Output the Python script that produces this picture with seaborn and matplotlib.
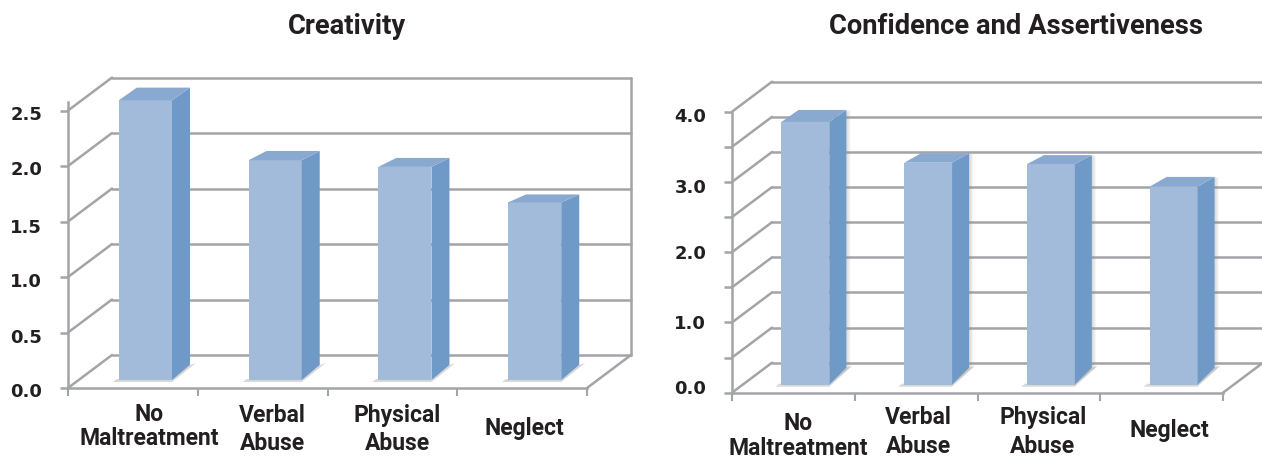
import matplotlib
matplotlib.use('agg')
import matplotlib.pyplot as plt
import seaborn as sns
from matplotlib.patches import Polygon
from matplotlib.transforms import IdentityTransform, ScaledTranslation, offset_copy

categories = ["No\nMaltreatment", "Verbal\nAbuse", "Physical\nAbuse", "Neglect"]
creativity = [2.52, 1.98, 1.92, 1.60]
confidence = [3.74, 3.16, 3.14, 2.82]
creativity_ticks = [0.0, 0.5, 1.0, 1.5, 2.0, 2.5]
confidence_ticks = [0.0, 0.5, 1.0, 1.5, 2.0, 2.5, 3.0, 3.5, 4.0]
creativity_labels = ["0.0", "0.5", "1.0", "1.5", "2.0", "2.5"]
confidence_labels = ["0.0", "", "1.0", "", "2.0", "", "3.0", "", "4.0"]

W, H = 1262, 458
GRID = '#a2a4a7'
FRONT = '#a3bbdb'
SIDE = '#6f9ac7'
TOP = '#8aa9d0'
INK = '#231f20'

sns.set_style("white")
plt.rcParams['font.family'] = ['Roboto', 'DejaVu Sans']
fig = plt.figure(figsize=(W / 100, H / 100), dpi=100)


def shifted(ax, transform, x, y):
    return offset_copy(transform, fig=fig, x=x, y=y, units='dots')


def panel(title, title_x, values, ticks, labels, box, ymax, wall, bar_width, bar_shift,
          depth, top_dy, glow, ynudge, xnudge, spacing):
    x0, x1, y0, ytop = box
    ax = fig.add_axes([x0 / W, 1 - y0 / H, (x1 - x0) / W, (y0 - ytop) / H])
    sns.barplot(x=categories, y=values, color=FRONT, saturation=1, width=bar_width, ax=ax)
    ax.set_xlim(-0.5, 3.5)
    ax.set_ylim(0, ymax)
    ax.patch.set_alpha(0)
    sns.despine(ax=ax)
    for s in ['left', 'bottom']:
        ax.spines[s].set_color(GRID)
        ax.spines[s].set_linewidth(1.8)

    # back wall and left wall
    back = shifted(ax, ax.transData, wall[0], wall[1])
    for t in ticks:
        ax.plot([-0.5, 3.5], [t, t], transform=back, color=GRID, lw=1.8, zorder=0.5, clip_on=False)
        a = ax.transData.transform((-0.5, t))
        ax.add_line(plt.Line2D([a[0], a[0] + wall[0]], [a[1], a[1] + wall[1]], transform=IdentityTransform(),
                               color=GRID, lw=1.8, zorder=0.5, clip_on=False))
    ax.plot([3.5, 3.5], [0, ticks[-1]], transform=back, color=GRID, lw=1.8, zorder=0.5, clip_on=False)
    a = ax.transData.transform((3.5, 0))
    ax.add_line(plt.Line2D([a[0], a[0] + wall[0]], [a[1], a[1] + wall[1]], transform=IdentityTransform(),
                           color=GRID, lw=1.8, zorder=0.5, clip_on=False))

    # 3d faces built from the seaborn bars
    lift = shifted(ax, ax.transData, bar_shift[0], bar_shift[1])
    dx, dy = depth
    for bar, tdy in zip(list(ax.patches), top_dy):
        bar.set_transform(lift)
        bar.set_clip_on(False)
        bar.set_linewidth(0)
        bar.set_zorder(3)
        bb = bar.get_bbox()
        (l, b) = lift.transform((bb.x0, bb.y0))
        (r, t) = lift.transform((bb.x1, bb.y1))
        floor = [(l - 6, b - 2), (r, b - 2), (r + dx + 6, b + dy + 2), (r + dx, b + dy), (r, b + 1), (l - 2, b + 1)]
        ax.add_patch(Polygon(floor, closed=True, transform=IdentityTransform(), color='#d8d8d8',
                             lw=0, zorder=2.2, clip_on=False))
        for k in range(1, glow + 1):
            ax.add_patch(Polygon([(r, b), (r + dx + k, b + dy), (r + dx + k, t + tdy), (r, t)], closed=True,
                                 transform=IdentityTransform(), color='#909090', alpha=0.09, lw=0,
                                 zorder=2.4, clip_on=False))
        ax.add_patch(Polygon([(r, b), (r + dx, b + dy), (r + dx, t + tdy), (r, t)], closed=True,
                             transform=IdentityTransform(), color=SIDE, lw=0, zorder=3, clip_on=False))
        ax.add_patch(Polygon([(l, t), (r, t), (r + dx, t + tdy), (l + dx, t + tdy)], closed=True,
                             transform=IdentityTransform(), color=TOP, lw=0, zorder=3, clip_on=False))

    ax.set_yticks(ticks)
    ax.set_yticklabels(labels)
    ax.set_xticks([-0.5, 0.5, 1.5, 2.5, 3.5], minor=True)
    ax.tick_params(axis='y', left=True, length=5.5, width=1.8, color=GRID, pad=13, labelsize=13, labelcolor=INK)
    ax.tick_params(axis='x', which='major', length=0, pad=12, labelsize=16.5, labelcolor=INK)
    ax.tick_params(axis='x', which='minor', bottom=True, length=5.5, width=1.5, color=GRID)
    for lab, n in zip(ax.get_yticklabels(), ynudge):
        lab.set_fontfamily(['DejaVu Sans'])
        lab.set_fontweight('bold')
        lab.set_transform(lab.get_transform() + ScaledTranslation(0, n / 100, fig.dpi_scale_trans))
    for lab, n, sp in zip(ax.get_xticklabels(), xnudge, spacing):
        lab.set_fontweight('bold')
        lab.set_linespacing(sp)
        lab.set_transform(lab.get_transform() + ScaledTranslation(n[0] / 100, n[1] / 100, fig.dpi_scale_trans))
    fig.text(title_x / W, 1 - 27 / H, title, ha='center', va='center', fontsize=19.7, fontweight='bold', color=INK)


panel("Creativity", 347, creativity, creativity_ticks, creativity_labels,
      (68, 587, 388, 102), 2.577, (44, 33), 0.41, (12.5, 8), (18, 15), [12.7, 9.3, 9, 8], 0,
      [-2, -3, -3, -4, -2, -2], [(16, 2), (10, 1), (5, 1), (2, -12)], [1.1, 1.3, 1.3, 1.1])
panel("Confidence and Assertiveness", 1016, confidence, confidence_ticks, confidence_labels,
      (732, 1223, 392.7, 111.7), 4.0, (40, 30), 0.39, (12, 8), (17, 17), [12, 9.5, 9, 9.7], 4,
      [6, 0, 0, 0, 0, 0, -4, 0, -3], [(5, -3), (2, 3), (4, 3), (8, -10)], [1.1, 1.3, 1.3, 1.1])

plt.savefig('out.png', dpi=100)
